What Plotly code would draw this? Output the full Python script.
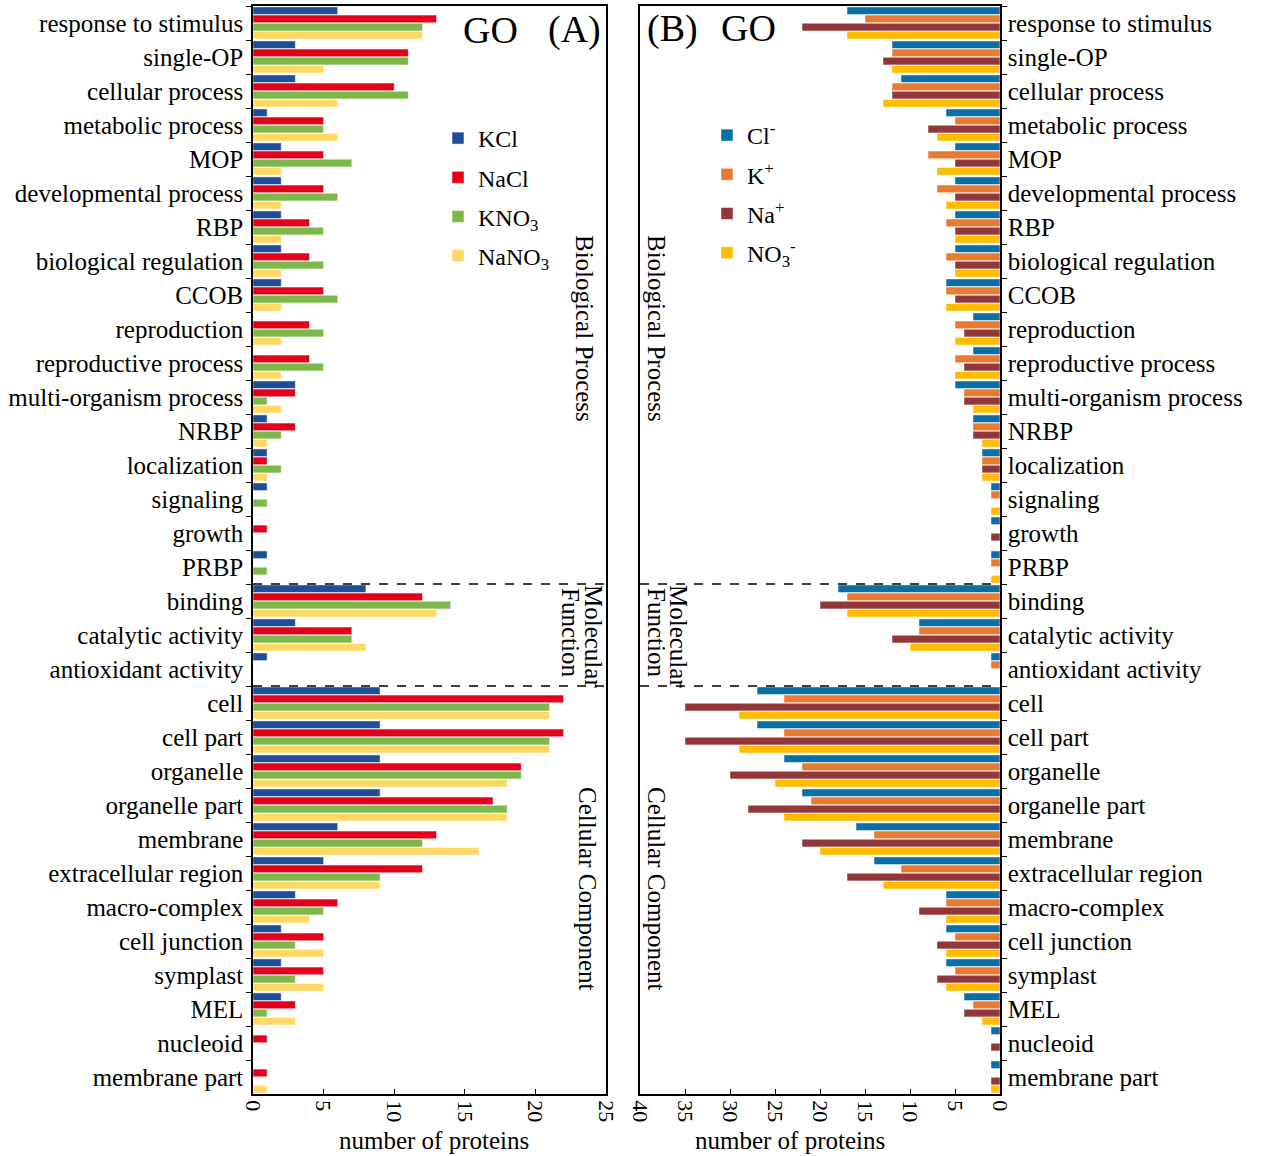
import plotly.graph_objects as go

# ---------------- data ----------------
categories = [
    "response to stimulus", "single-OP", "cellular process", "metabolic process", "MOP",
    "developmental process", "RBP", "biological regulation", "CCOB", "reproduction",
    "reproductive process", "multi-organism process", "NRBP", "localization", "signaling",
    "growth", "PRBP",
    "binding", "catalytic activity", "antioxidant activity",
    "cell", "cell part", "organelle", "organelle part", "membrane", "extracellular region",
    "macro-complex", "cell junction", "symplast", "MEL", "nucleoid", "membrane part",
]

# Panel A (salt treatments)
kcl   = [6, 3, 3, 1, 2, 2, 2, 2, 2, 0, 0, 3, 1, 1, 1, 0, 1,  8, 3, 1,  9, 9, 9, 9, 6, 5, 3, 2, 2, 2, 0, 0]
nacl  = [13, 11, 10, 5, 5, 5, 4, 4, 5, 4, 4, 3, 3, 1, 0, 1, 0,  12, 7, 0,  22, 22, 19, 17, 13, 12, 6, 5, 5, 3, 1, 1]
kno3  = [12, 11, 11, 5, 7, 6, 5, 5, 6, 5, 5, 1, 2, 2, 1, 0, 1,  14, 7, 0,  21, 21, 19, 18, 12, 9, 5, 3, 3, 1, 0, 0]
nano3 = [12, 5, 6, 6, 2, 2, 2, 2, 2, 2, 2, 2, 1, 1, 0, 0, 0,  13, 8, 0,  21, 21, 18, 18, 16, 9, 4, 5, 5, 3, 0, 1]

# Panel B (ions)
cl_ion  = [17, 12, 11, 6, 5, 5, 5, 5, 6, 3, 3, 5, 3, 2, 1, 1, 1,  18, 9, 1,  27, 27, 24, 22, 16, 14, 6, 6, 6, 4, 1, 1]
k_ion   = [15, 12, 12, 5, 8, 7, 6, 6, 6, 5, 5, 4, 3, 2, 1, 0, 1,  17, 9, 1,  24, 24, 22, 21, 14, 11, 6, 5, 5, 3, 0, 0]
na_ion  = [22, 13, 12, 8, 5, 5, 5, 5, 5, 4, 4, 4, 3, 2, 0, 1, 0,  20, 12, 0,  35, 35, 30, 28, 22, 17, 9, 7, 7, 4, 1, 1]
no3_ion = [17, 12, 13, 7, 7, 6, 5, 5, 6, 5, 5, 3, 2, 2, 1, 0, 1,  17, 10, 0,  29, 29, 25, 24, 20, 13, 6, 6, 6, 2, 0, 1]

names_a = ["KCl", "NaCl", "KNO<sub>3</sub>", "NaNO<sub>3</sub>"]
names_b = ["Cl<sup>-</sup>", "K<sup>+</sup>", "Na<sup>+</sup>", "NO<sub>3</sub><sup>-</sup>"]
colors_a = ["#1F4E96", "#E2001A", "#7DB94A", "#FFD866"]
colors_b = ["#0B6FA4", "#E97A2F", "#933639", "#FFBC00"]

x_ticks_a = [0, 5, 10, 15, 20, 25]
x_ticks_b = [0, 5, 10, 15, 20, 25, 30, 35, 40]

# ---------------- figure ----------------
W, H = 1269, 1156
FONT = "Liberation Serif"


def px(p):
    return p / W


def py(p):
    return 1 - p / H


fig = go.Figure()
for name, vals, col in zip(names_a, [kcl, nacl, kno3, nano3], colors_a):
    fig.add_trace(go.Bar(
        y=categories, x=vals, orientation="h", name=name,
        marker=dict(color=col, line=dict(color="white", width=0.5)),
        xaxis="x", yaxis="y", legend="legend", legendgroup="a" + name,
    ))
for name, vals, col in zip(names_b, [cl_ion, k_ion, na_ion, no3_ion], colors_b):
    fig.add_trace(go.Bar(
        y=categories, x=vals, orientation="h", name=name,
        marker=dict(color=col, line=dict(color="white", width=0.5)),
        xaxis="x2", yaxis="y2", legend="legend2", legendgroup="b" + name,
    ))

ydom = [py(1094), py(6)]
axis_common = dict(showline=True, linecolor="black", linewidth=1.5, mirror=True,
                   showgrid=False, zeroline=False, automargin=False)
yaxis_common = dict(type="category", categoryorder="array", categoryarray=categories,
                    range=[len(categories) - 0.5, -0.5], tickson="boundaries",
                    ticks="outside", ticklen=5, tickcolor="black",
                    tickfont=dict(family=FONT, size=25, color="black"), **axis_common)
xaxis_common = dict(tickangle=90, ticks="inside", ticklen=5, tickcolor="black",
                    tickfont=dict(family=FONT, size=22, color="black"), **axis_common)

fig.update_layout(
    width=W, height=H,
    margin=dict(l=0, r=0, t=0, b=0),
    paper_bgcolor="white", plot_bgcolor="white",
    barmode="group", bargap=0.04, bargroupgap=0.06,
    font=dict(family=FONT, color="black"),
    xaxis=dict(domain=[px(253), px(606)], anchor="y", range=[0, 25], tickvals=x_ticks_a,
               **xaxis_common),
    yaxis=dict(domain=ydom, anchor="x", side="left", ticklabelstandoff=3, **yaxis_common),
    xaxis2=dict(domain=[px(640), px(1000)], anchor="y2", range=[40, 0], tickvals=x_ticks_b,
                **xaxis_common),
    yaxis2=dict(domain=ydom, anchor="x2", side="right", ticklabelstandoff=1, **yaxis_common),
    legend=dict(x=px(438), y=py(116), xanchor="left", yanchor="top",
                bgcolor="rgba(0,0,0,0)", font=dict(family=FONT, size=24, color="black"),
                tracegroupgap=5, traceorder="grouped"),
    legend2=dict(x=px(707), y=py(113), xanchor="left", yanchor="top",
                 bgcolor="rgba(0,0,0,0)", font=dict(family=FONT, size=24, color="black"),
                 tracegroupgap=5, traceorder="grouped"),
)

# dashed separators between GO domains
for xr, yr in [("x domain", "y"), ("x2 domain", "y2")]:
    for b in [16.5, 19.5]:
        fig.add_shape(type="line", xref=xr, yref=yr, x0=0, x1=1, y0=b, y1=b,
                      line=dict(color="black", width=1.5, dash="dash"))

ann = []


def text(s, x, y, size, angle=0, xa="center"):
    ann.append(dict(text=s, x=px(x), y=py(y), xref="paper", yref="paper", showarrow=False,
                    textangle=angle, xanchor=xa, yanchor="middle",
                    font=dict(family=FONT, size=size, color="black")))


text("GO", 490, 30, 38)
text("(A)", 574, 30, 38)
text("(B)", 672, 28, 38)
text("GO", 748, 28, 38)
text("Biological Process", 585, 328, 25, 90)
text("Molecular", 594, 636, 25, 90)
text("Function", 571, 632, 25, 90)
text("Cellular Component", 588, 888, 25, 90)
text("Biological Process", 657, 328, 25, 90)
text("Molecular", 679, 636, 25, 90)
text("Function", 657, 632, 25, 90)
text("Cellular Component", 657, 888, 25, 90)
text("number of proteins", 434, 1140, 25)
text("number of proteins", 790, 1140, 25)
fig.update_layout(annotations=ann)

fig.write_html("out.html", config={"displayModeBar": False},
               post_script="document.body.style.margin='0';")
